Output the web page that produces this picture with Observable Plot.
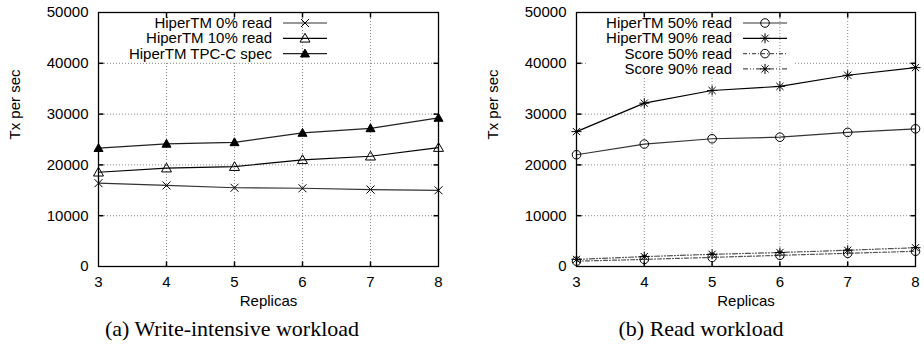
<!DOCTYPE html>
<html><head><meta charset="utf-8">
<script src="https://cdn.jsdelivr.net/npm/d3@7"></script>
<script src="https://cdn.jsdelivr.net/npm/@observablehq/plot@0.6"></script>
<style>
body{margin:0;background:#fff;}
#wrap{width:924px;}
#charts{display:flex;}
#charts svg{display:block;}
.cap{width:924px;display:flex;font-family:"Liberation Serif","Times New Roman",serif;font-size:22px;line-height:25px;color:#000;}
.cap div{width:462px;text-align:center;}
</style></head><body>
<div id="wrap">
  <div id="charts"></div>
  <div class="cap"><div style="padding-left:2px;box-sizing:border-box">(a) Write-intensive workload</div><div style="padding-left:16px;box-sizing:border-box">(b) Read workload</div></div>
</div>
<script>
// ---- data ----
const replicas = [3, 4, 5, 6, 7, 8];
const yTickValues = [0, 10000, 20000, 30000, 40000, 50000];
const xLabel = "Replicas";
const yLabel = "Tx per sec";

const writeNames = ["HiperTM 0% read", "HiperTM 10% read", "HiperTM TPC-C spec"];
const hiper0 = [16400, 15950, 15500, 15400, 15150, 15000];
const hiper10 = [18550, 19350, 19650, 21000, 21700, 23400];
const tpcc = [23300, 24150, 24450, 26300, 27200, 29250];

const readNames = ["HiperTM 50% read", "HiperTM 90% read", "Score 50% read", "Score 90% read"];
const hiper50 = [22000, 24100, 25150, 25450, 26400, 27100];
const hiper90 = [26550, 32150, 34650, 35450, 37650, 39150];
const score50 = [1050, 1400, 1800, 2200, 2600, 3000];
const score90 = [1400, 1950, 2400, 2750, 3200, 3700];

// ---- symbols ----
const sym = (f) => ({draw(ctx, size) { f(ctx, Math.sqrt(size / Math.PI)); }});
const TIMES = sym((c, r) => {c.moveTo(-r, -r); c.lineTo(r, r); c.moveTo(-r, r); c.lineTo(r, -r);});
const PLUS = sym((c, r) => {c.moveTo(-r, 0); c.lineTo(r, 0); c.moveTo(0, -r); c.lineTo(0, r);});
const TRI = sym((c, r) => {c.moveTo(0, -r); c.lineTo(r, 0.75 * r); c.lineTo(-r, 0.75 * r); c.closePath();});
const CIRC = sym((c, r) => {c.moveTo(r, 0); c.arc(0, 0, r, 0, 2 * Math.PI);});
const TICK_UP = {draw(c) {c.moveTo(0, 0); c.lineTo(0, -5);}};
const TICK_DOWN = {draw(c) {c.moveTo(0, 0); c.lineTo(0, 5);}};
const TICK_RIGHT = {draw(c) {c.moveTo(0, 0); c.lineTo(5, 0);}};
const TICK_LEFT = {draw(c) {c.moveTo(0, 0); c.lineTo(-5, 0);}};

const mkTimes = [{symbol: TIMES, r: 4, fill: "none"}];
const mkOpenTri = [{symbol: TRI, r: 5, fill: "none"}];
const mkFillTri = [{symbol: TRI, r: 4.5, fill: "black"}];
const mkCircle = [{symbol: CIRC, r: 4.3, fill: "none"}];
const mkStar = [{symbol: PLUS, r: 5, fill: "none"}, {symbol: TIMES, r: 3.6, fill: "none"}];

const writeSeries = [
  {name: writeNames[0], values: hiper0, stroke: "#333", dash: null, marks: mkTimes},
  {name: writeNames[1], values: hiper10, stroke: "#000", dash: null, marks: mkOpenTri},
  {name: writeNames[2], values: tpcc, stroke: "#222", dash: null, marks: mkFillTri}
];
const readSeries = [
  {name: readNames[0], values: hiper50, stroke: "#333", dash: null, marks: mkCircle},
  {name: readNames[1], values: hiper90, stroke: "#000", dash: null, marks: mkStar},
  {name: readNames[2], values: score50, stroke: "#555", dash: "4,2,1,2", marks: mkCircle},
  {name: readNames[3], values: score90, stroke: "#555", dash: "5,2,1,2,1,2", marks: mkStar}
];

const gridStyle = {stroke: "#888", strokeOpacity: 1, strokeDasharray: "1,2", strokeWidth: 1};

function chart(series, ml, mr, textRight) {
  const marks = [
    Plot.gridX({ticks: [4, 5], ...gridStyle}),
    Plot.gridY({ticks: [10000, 20000, 30000, 40000], ...gridStyle}),
    Plot.gridX({ticks: [6, 7], ...gridStyle})
  ];
  for (const s of series) {
    const d = replicas.map((r, i) => ({x: r, y: s.values[i]}));
    marks.push(Plot.line(d, {x: "x", y: "y", stroke: s.stroke, strokeWidth: 1.2, strokeDasharray: s.dash}));
    for (const m of s.marks) {
      marks.push(Plot.dot(d, {x: "x", y: "y", symbol: m.symbol, r: m.r, stroke: "black", fill: m.fill, strokeWidth: 1}));
    }
  }
  const yMid = yTickValues.slice(1, -1);
  const xMid = replicas.slice(1, -1);
  marks.push(
    Plot.dot(xMid, {x: d => d, y: () => 0, symbol: TICK_UP, stroke: "black"}),
    Plot.dot(xMid, {x: d => d, y: () => 50000, symbol: TICK_DOWN, stroke: "black"}),
    Plot.dot(yMid, {y: d => d, x: () => 3, symbol: TICK_RIGHT, stroke: "black"}),
    Plot.dot(yMid, {y: d => d, x: () => 8, symbol: TICK_LEFT, stroke: "black"}),
    Plot.frame({stroke: "black", strokeWidth: 1.3}),
    Plot.axisX({ticks: replicas, tickSize: 0, tickPadding: 10, label: null, tickFormat: d => String(d)}),
    Plot.axisY({ticks: yTickValues, tickSize: 0, tickPadding: 10, label: null, tickFormat: d => String(d)}),
    Plot.text([xLabel], {frameAnchor: "bottom", dy: 39, text: d => d}),
    Plot.text([yLabel], {frameAnchor: "left", dx: ml - 15 > 0 ? -(ml - 15 - (ml - 98)) : -83, rotate: -90, text: d => d})
  );
  const svg = Plot.plot({
    width: 462, height: 316,
    marginTop: 12, marginBottom: 50, marginLeft: ml, marginRight: mr,
    x: {domain: [3, 8]},
    y: {domain: [0, 50000]},
    style: {fontFamily: "'Liberation Sans', Arial, sans-serif", fontSize: "15px", color: "black", background: "white"},
    marks
  });
  return {svg, series, textRight};
}

const charts = [chart(writeSeries, 98, 24, 272), chart(readSeries, 114, 9, 270)];
const holder = document.getElementById("charts");
charts.forEach(c => holder.appendChild(c.svg));

// ---- legends + mask ----
const NS = "http://www.w3.org/2000/svg";
for (const c of charts) {
  const svg = d3.select(c.svg);
  const g = svg.append("g").attr("font-family", "'Liberation Sans', Arial, sans-serif").attr("font-size", 15);
  let minLeft = Infinity, lastY = 0;
  c.series.forEach((s, i) => {
    const y = 12 + 11 + i * 15.3;
    lastY = y;
    const t = g.append("text").attr("x", c.textRight).attr("y", y).attr("dy", "0.33em")
      .attr("text-anchor", "end").attr("fill", "black").text(s.name);
    minLeft = Math.min(minLeft, t.node().getBBox().x);
    g.append("line").attr("x1", c.textRight + 11).attr("x2", c.textRight + 55).attr("y1", y).attr("y2", y)
      .attr("stroke", s.stroke).attr("stroke-width", 1.2).attr("stroke-dasharray", s.dash);
    for (const m of s.marks) {
      g.append("path").attr("d", d3.symbol(m.symbol, Math.PI * m.r * m.r)())
        .attr("transform", `translate(${c.textRight + 33},${y})`)
        .attr("fill", m.fill).attr("stroke", "black").attr("stroke-width", 1);
    }
  });
  const rect = document.createElementNS(NS, "rect");
  rect.setAttribute("x", minLeft - 20);
  rect.setAttribute("y", 13);
  rect.setAttribute("width", c.textRight + 63 - (minLeft - 20));
  rect.setAttribute("height", lastY + 8 - 13);
  rect.setAttribute("fill", "white");
  const grids = c.svg.querySelectorAll('[aria-label="x-grid"]');
  if (grids.length > 1) grids[1].parentNode.insertBefore(rect, grids[1]);
  else c.svg.insertBefore(rect, g.node());
}
</script>
</body></html>
